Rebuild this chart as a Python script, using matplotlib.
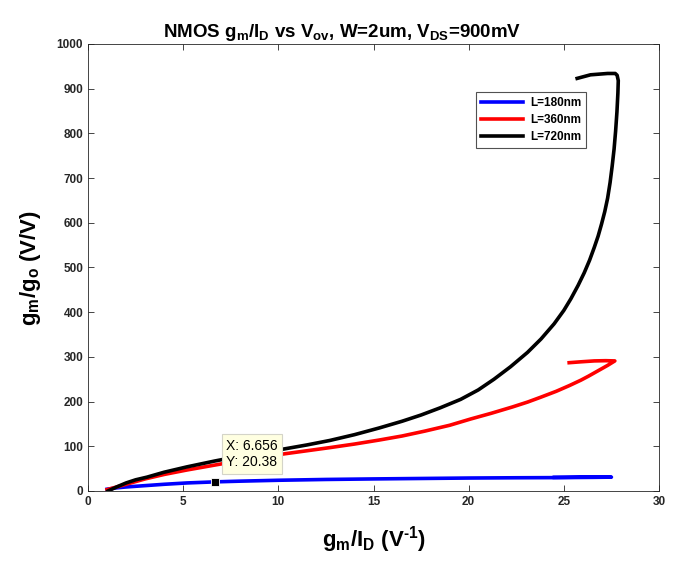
import matplotlib
matplotlib.use('Agg')
import matplotlib.pyplot as plt

plt.rcParams['font.family'] = ['Liberation Sans', 'DejaVu Sans']
plt.rcParams['font.weight'] = 'bold'
plt.rcParams['mathtext.fontset'] = 'custom'
plt.rcParams['mathtext.rm'] = 'Liberation Sans:bold'
plt.rcParams['mathtext.it'] = 'Liberation Sans:bold'
plt.rcParams['mathtext.bf'] = 'Liberation Sans:bold'

# gm/ID (1/V) vs gm/go (V/V), sweep of Vov for three channel lengths
x_180 = [1.0, 1.5, 2.0, 3.0, 4.0, 5.2, 6.656, 8, 10, 12.5, 15, 17.5, 20, 22.5,
         25, 26.5, 27.5, 26.0, 24.5]
y_180 = [4, 7, 9, 12, 15, 18, 20.38, 22, 24, 25.8, 27, 28, 29, 29.6,
         30, 30.5, 31, 31, 30.5]

x_360 = [1.0, 1.5, 2.0, 3.0, 4.0, 5.2, 6.66, 8, 9, 10.3, 11.5, 12.7, 14, 15.3,
         16.5, 17.7, 19, 20.1, 21.2, 22.3, 23.1, 23.8, 24.6, 25.3, 25.9, 26.3,
         26.8, 27.3, 27.68, 27.2, 26.6, 25.9, 25.28]
y_360 = [3, 9, 15, 27, 37, 47, 58, 68, 75, 83, 90, 97, 105, 114,
         123, 134, 147, 161, 174, 188, 199, 210, 223, 236, 248, 257,
         269, 281, 291, 291.5, 291, 289, 287]

x_720 = [1.05, 1.5, 2.0, 2.5, 3.1, 4.0, 5.2, 6.65, 8, 9, 10.3, 11.5, 12.7, 14,
         15.3, 16.5, 17.5, 18.5, 19.58, 20.5, 21.33, 22.2, 23.09, 23.8, 24.49,
         25.0, 25.37, 25.75, 26.07, 26.35, 26.6, 26.8, 26.98, 27.15, 27.3, 27.43,
         27.54, 27.64, 27.72, 27.79, 27.84, 27.86, 27.8, 27.7, 27.3, 26.4, 25.7]
y_720 = [0, 9, 18, 25, 31, 42, 54, 67, 78, 86, 94, 103, 113, 126,
         141, 156, 170, 186, 205, 226, 250, 278, 310, 340, 374,
         404, 430, 460, 488, 516, 545, 570, 597, 625, 655, 690,
         727, 765, 805, 848, 890, 918, 930, 934, 934, 931, 923]

tip_x, tip_y = 6.656, 20.38

fig = plt.figure(figsize=(6.73, 5.63), dpi=100)
ax = fig.add_axes([0.1308, 0.1279, 0.8484, 0.794])

ax.plot(x_180, y_180, color='#0000ff', lw=2.6, label='L=180nm')
ax.plot(x_360, y_360, color='#ff0000', lw=2.6, label='L=360nm')
ax.plot(x_720, y_720, color='black', lw=2.6, label='L=720nm')

# data tip on the 180nm curve
ax.plot([tip_x], [tip_y], 's', color='black', ms=6, mec='white', mew=0.6, zorder=5)
ax.annotate('X: {}\nY: {}'.format(tip_x, tip_y), xy=(tip_x, tip_y),
            xytext=(8, 9), textcoords='offset points', ha='left', va='bottom',
            fontsize=10, fontweight='normal', linespacing=1.25,
            bbox=dict(boxstyle='square,pad=0.3', fc='#ffffe1', ec='#d4d4c8', lw=0.8),
            zorder=6)

ax.set_xlim(0, 30)
ax.set_ylim(0, 1000)
ax.set_xticks(range(0, 31, 5))
ax.set_yticks(range(0, 1001, 100))
ax.tick_params(direction='in', length=4, width=0.6, colors='#262626',
               labelsize=8.5, top=True, right=True, labeltop=False, labelright=False)
for lbl in ax.get_xticklabels() + ax.get_yticklabels():
    lbl.set_fontweight('bold')
for sp in ax.spines.values():
    sp.set_color('#262626')
    sp.set_linewidth(0.6)

ax.set_title(r'NMOS g$_{\rm m}$/I$_{\rm D}$ vs V$_{\rm ov}$, W=2um, V$_{\rm DS}$=900mV',
             fontsize=13.5, fontweight='bold', pad=5, x=0.445)
ax.set_xlabel('g$_{\\rm m}$/I$_{\\rm D}$ (V$^{\u2010\\rm 1}$)', fontsize=16,
              fontweight='bold', labelpad=12)
ax.set_ylabel(r'g$_{\rm m}$/g$_{\rm o}$ (V/V)', fontsize=16, fontweight='bold', labelpad=10)

leg = ax.legend(loc='upper right', bbox_to_anchor=(0.873, 0.892), fontsize=8.5,
                frameon=True, fancybox=False, edgecolor='#262626', handlelength=3.6,
                borderpad=0.4, labelspacing=0.42, handletextpad=0.6, borderaxespad=0)
leg.get_frame().set_linewidth(0.8)
for t in leg.get_texts():
    t.set_fontweight('bold')

fig.savefig('out.png', dpi=100)
